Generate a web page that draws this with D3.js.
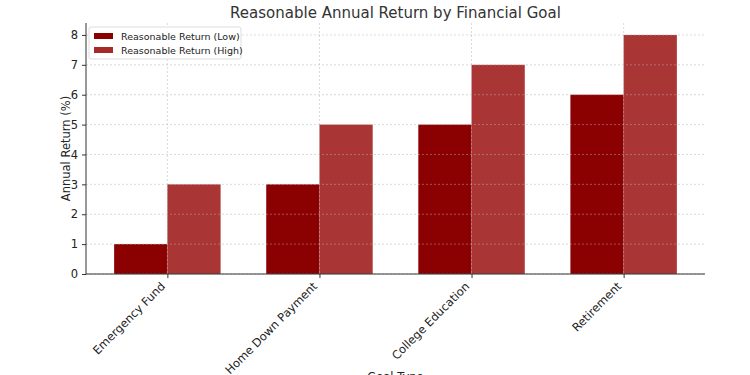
<!DOCTYPE html>
<html>
<head>
<meta charset="utf-8">
<script src="https://cdn.jsdelivr.net/npm/d3@7"></script>
<style>
    body { margin: 0; background: #fff; }
    text { font-family: "DejaVu Sans", sans-serif; }
</style>
</head>
<body>
<div id="chart"></div>
<script>
// chart data
let goals = ["Emergency Fund", "Home Down Payment", "College Education", "Retirement"];
let lowReturns = [1, 3, 5, 6];
let highReturns = [3, 5, 7, 8];
let seriesNames = ["Reasonable Return (Low)", "Reasonable Return (High)"];
let yTicks = [0, 1, 2, 3, 4, 5, 6, 7, 8];

let colors = ["#8b0000", "#a52a2a"];

let margin = {top: 23, right: 45, bottom: 101, left: 86};
let width = 750 - margin.left - margin.right;
let height = 375 - margin.top - margin.bottom;

let svg = d3.select("#chart").append("svg")
    .attr("width", 750)
    .attr("height", 375);

let g = svg.append("g")
    .attr("transform", "translate(" + margin.left + "," + margin.top + ")");

// linear x scale over category index (matplotlib style margins)
let barW = 0.35;
let x = d3.scaleLinear()
    .domain([-0.535, goals.length - 1 + 0.535])
    .range([0, width]);

let y = d3.scaleLinear()
    .domain([0, 8.4])
    .range([height, 0]);

// bars
let series = [lowReturns, highReturns];
series.forEach((vals, s) => {
    g.selectAll(".bar-" + s)
        .data(vals)
        .enter().append("rect")
        .attr("class", "bar-" + s)
        .attr("x", (d, i) => x(i + (s === 0 ? -barW : 0)))
        .attr("width", x(barW) - x(0))
        .attr("y", d => y(d))
        .attr("height", d => height - y(d))
        .attr("fill", colors[s])
        .attr("opacity", s === 0 ? 1 : 0.95);
});

// grid (drawn above bars)
g.append("g")
    .selectAll("line")
    .data(yTicks)
    .enter().append("line")
    .attr("x1", 0).attr("x2", width)
    .attr("y1", d => y(d)).attr("y2", d => y(d))
    .attr("stroke", "#b0b0b0")
    .attr("stroke-opacity", 0.6)
    .attr("stroke-width", 0.8)
    .attr("stroke-dasharray", "2,2");

g.append("g")
    .selectAll("line")
    .data(goals)
    .enter().append("line")
    .attr("x1", (d, i) => x(i)).attr("x2", (d, i) => x(i))
    .attr("y1", 0).attr("y2", height)
    .attr("stroke", "#b0b0b0")
    .attr("stroke-opacity", 0.6)
    .attr("stroke-width", 0.8)
    .attr("stroke-dasharray", "2,2");

// axes
let yAxis = d3.axisLeft(y).tickValues(yTicks).tickSize(4).tickPadding(4);
let gy = g.append("g").call(yAxis);
gy.select(".domain").remove();
gy.selectAll("line").attr("stroke", "#333");
gy.selectAll("text").style("font-size", "11.5px").attr("fill", "#222");

let xAxis = d3.axisBottom(x)
    .tickValues(d3.range(goals.length))
    .tickFormat(i => goals[i])
    .tickSize(4);
let gx = g.append("g")
    .attr("transform", "translate(0," + height + ")")
    .call(xAxis);
gx.select(".domain").remove();
gx.selectAll("line").attr("stroke", "#333");
gx.selectAll("text")
    .style("font-size", "11.5px")
    .attr("fill", "#222")
    .attr("text-anchor", "end")
    .attr("dy", 0)
    .attr("y", 0)
    .attr("x", 0)
    .attr("transform", "translate(-2,13) rotate(-45)");

// spines: left and bottom
g.append("line")
    .attr("x1", 0).attr("x2", 0).attr("y1", 0).attr("y2", height)
    .attr("stroke", "#333").attr("stroke-width", 1);
g.append("line")
    .attr("x1", 0).attr("x2", width).attr("y1", height).attr("y2", height)
    .attr("stroke", "#333").attr("stroke-width", 1);

// title and axis labels
svg.append("text")
    .attr("x", margin.left + width / 2)
    .attr("y", 18)
    .attr("text-anchor", "middle")
    .style("font-size", "15px")
    .attr("fill", "#333")
    .text("Reasonable Annual Return by Financial Goal");

svg.append("text")
    .attr("transform", `translate(70, ${margin.top + height / 2}) rotate(-90)`)
    .attr("text-anchor", "middle")
    .style("font-size", "11.5px")
    .attr("fill", "#222")
    .text("Annual Return (%)");

svg.append("text")
    .attr("x", margin.left + width / 2)
    .attr("y", 381)
    .attr("text-anchor", "middle")
    .style("font-size", "11.5px")
    .attr("fill", "#222")
    .text("Goal Type");

// legend
let legend = g.append("g").attr("transform", "translate(3,4)");
legend.append("rect")
    .attr("width", 152).attr("height", 32)
    .attr("rx", 2)
    .attr("fill", "#fff")
    .attr("fill-opacity", 0.85)
    .attr("stroke", "#ddd");
seriesNames.forEach((name, i) => {
    let row = legend.append("g").attr("transform", `translate(5, ${6 + i * 14})`);
    row.append("rect")
        .attr("width", 19).attr("height", 6)
        .attr("fill", colors[i]);
    row.append("text")
        .attr("x", 27).attr("y", 6.5)
        .style("font-size", "9.5px")
        .attr("fill", "#222")
        .text(name);
});
</script>
</body>
</html>
